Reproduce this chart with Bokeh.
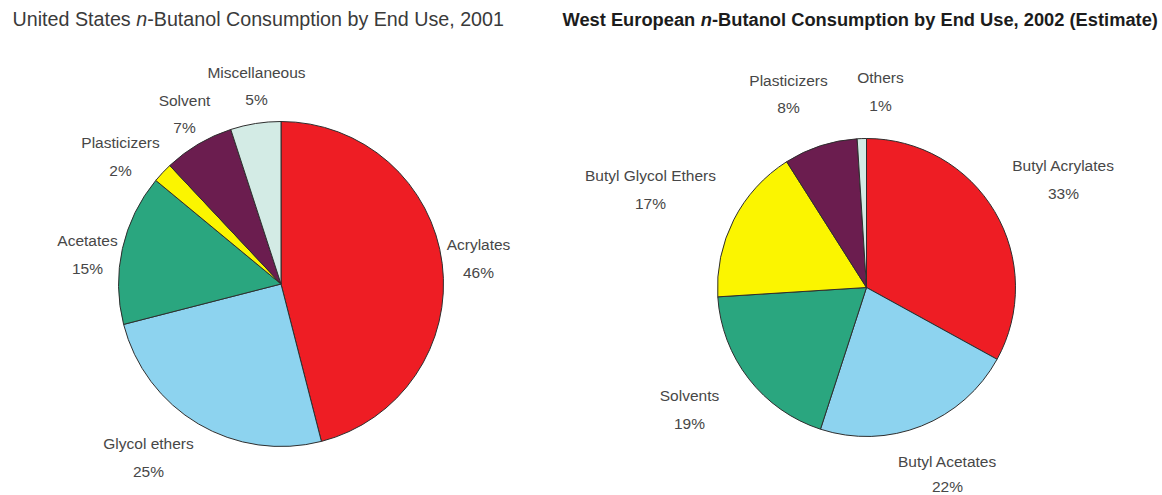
import numpy as np
from bokeh.plotting import figure
from bokeh.models import Range1d
from bokeh.core.properties import value
from bokeh.embed import file_html
from bokeh.resources import INLINE

# ---------------- data ----------------
us_categories = ["Acrylates", "Glycol ethers", "Acetates", "Plasticizers", "Solvent", "Miscellaneous"]
us_values = [46, 25, 15, 2, 7, 5]

we_categories = ["Butyl Acrylates", "Butyl Acetates", "Solvents", "Butyl Glycol Ethers", "Plasticizers", "Others"]
we_values = [33, 22, 19, 17, 8, 1]

slice_colors = ["#ee1d24", "#8dd3ef", "#2aa67f", "#fbf500", "#6b1d4f", "#d3ebe5"]

us_title = ["United States ", "n", "-Butanol Consumption by End Use, 2001"]
we_title = ["West European ", "n", "-Butanol Consumption by End Use, 2002 (Estimate)"]

# ---------------- layout (reference pixel positions) ----------------
W, H = 1162, 495
def px(X):
    return X
def py(Y):
    return H - Y

us_center, us_radius = (280.5, 283.5), 162.5
we_center, we_radius = (866.0, 287.0), 149.0

# label name centres (reference px) and the gap to the percent line below
us_label_pos = [(478, 244), (148, 443), (87, 240), (120, 142), (184, 100), (256, 72)]
we_label_pos = [(1063, 165), (947, 461), (689, 395), (650, 175), (788, 80), (880, 77)]
us_gaps = [28, 28, 28, 28, 27, 27]
we_gaps = [28, 25, 28, 28, 27, 28]

label_font = value("Liberation Sans")
label_size = "15.5px"
label_color = "#474747"

p = figure(width=W, height=H, output_backend="svg", toolbar_location=None,
           x_range=Range1d(0, W), y_range=Range1d(0, H),
           x_axis_location=None, y_axis_location=None, min_border=0)
p.grid.visible = False
p.outline_line_color = None
p.background_fill_color = "white"
p.border_fill_color = "white"


def draw_pie(values, cats, center, radius, label_pos, gaps):
    v = np.array(values, dtype=float)
    frac = v / v.sum()
    cum = np.concatenate([[0.0], np.cumsum(frac)])
    start = np.pi / 2 - 2 * np.pi * cum[:-1]
    end = np.pi / 2 - 2 * np.pi * cum[1:]
    n = len(values)
    p.wedge(x=[px(center[0])] * n, y=[py(center[1])] * n, radius=radius,
            start_angle=list(start), end_angle=list(end), direction="clock",
            fill_color=slice_colors[:n], line_color="#2e2e2e", line_width=1)
    pct = [f"{int(round(x))}%" for x in values]
    lx = [px(a) for a, b in label_pos]
    ly = [py(b) for a, b in label_pos]
    p.text(x=lx, y=ly, text=cats, text_align="center", text_baseline="middle",
           text_font=label_font, text_font_size=label_size, text_color=label_color)
    p.text(x=lx, y=[y - g for y, g in zip(ly, gaps)], text=pct, text_align="center",
           text_baseline="middle", text_font=label_font, text_font_size=label_size,
           text_color=label_color)


draw_pie(us_values, us_categories, us_center, us_radius, us_label_pos, us_gaps)
draw_pie(we_values, we_categories, we_center, we_radius, we_label_pos, we_gaps)


def draw_title(parts, x0, ybase, size, style, italic_style, color, prefix_em, n_em):
    fs = f"{size}px"
    x1 = x0 + prefix_em * size
    x2 = x1 + n_em * size
    font = value("Liberation Sans")
    p.text(x=[px(x0)], y=[py(ybase)], text=[parts[0]], text_align="left",
           text_baseline="alphabetic", text_font=font, text_font_size=fs,
           text_font_style=style, text_color=color)
    p.text(x=[px(x1)], y=[py(ybase)], text=[parts[1]], text_align="left",
           text_baseline="alphabetic", text_font=font, text_font_size=fs,
           text_font_style=italic_style, text_color=color)
    p.text(x=[px(x2)], y=[py(ybase)], text=[parts[2]], text_align="left",
           text_baseline="alphabetic", text_font=font, text_font_size=fs,
           text_font_style=style, text_color=color)


draw_title(us_title, 12, 18, 19.7, "normal", "italic", "#3a3a3a", 6.281, 0.556)
draw_title(we_title, 562, 19, 18.3, "bold", "bold italic", "#1c1c1c", 7.557, 0.611)

open("out.html", "w").write(file_html(p, INLINE))
